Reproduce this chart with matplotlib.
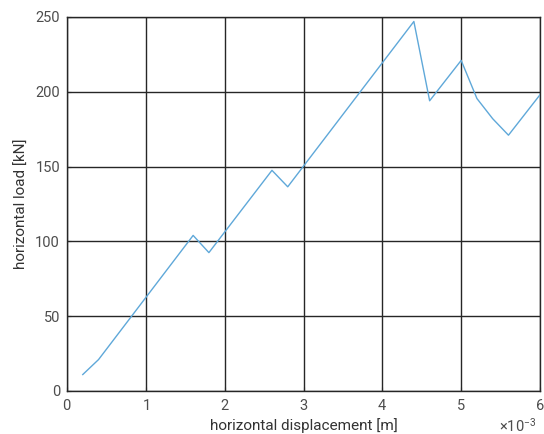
import matplotlib
matplotlib.use("Agg")
import matplotlib.pyplot as plt
from matplotlib.ticker import ScalarFormatter

plt.rcParams['font.family'] = ['Roboto', 'DejaVu Sans']
plt.rcParams['mathtext.fontset'] = 'custom'
plt.rcParams['mathtext.rm'] = 'Roboto'

# displacement in metres, load in kN
disp_m = [0.2e-3, 0.4e-3, 1.6e-3, 1.8e-3, 2.6e-3, 2.8e-3, 4.4e-3, 4.6e-3,
          5.0e-3, 5.2e-3, 5.4e-3, 5.6e-3, 6.0e-3]
load_kN = [11, 21, 104, 92.5, 147.5, 136.5, 247, 194, 221, 195.5, 182, 171, 198]

xticks = [0, 1e-3, 2e-3, 3e-3, 4e-3, 5e-3, 6e-3]
yticks = [0, 50, 100, 150, 200, 250]

fig = plt.figure(figsize=(5.44, 4.34), dpi=100)
ax = fig.add_axes([67/544, 1 - 391/434, (540-67)/544, (391-17)/434])
ax.plot(disp_m, load_kN, color='#5fa8d9', linewidth=1.0, zorder=3)

ax.set_xlim(0, 6e-3)
ax.set_ylim(0, 250)
ax.set_xticks(xticks)
ax.set_yticks(yticks)
fmt = ScalarFormatter(useMathText=True)
fmt.set_powerlimits((-2, 2))
ax.xaxis.set_major_formatter(fmt)

ax.grid(True, color='#262626', linewidth=1.0, alpha=1)
for spine in ax.spines.values():
    spine.set_color('#262626')
    spine.set_linewidth(1.0)
ax.tick_params(direction='in', length=3, colors='#262626', labelsize=10.5, labelcolor='#4d4d4d', pad=5)
off = ax.xaxis.get_offset_text()
off.set_fontsize(10.5)
off.set_color('#4d4d4d')
off.set_x(0.993)

ax.set_xlabel('horizontal displacement [m]', fontsize=11, color='#333333', labelpad=4)
ax.set_ylabel('horizontal load [kN]', fontsize=11, color='#333333', labelpad=5)

fig.savefig('out.png', dpi=100)
